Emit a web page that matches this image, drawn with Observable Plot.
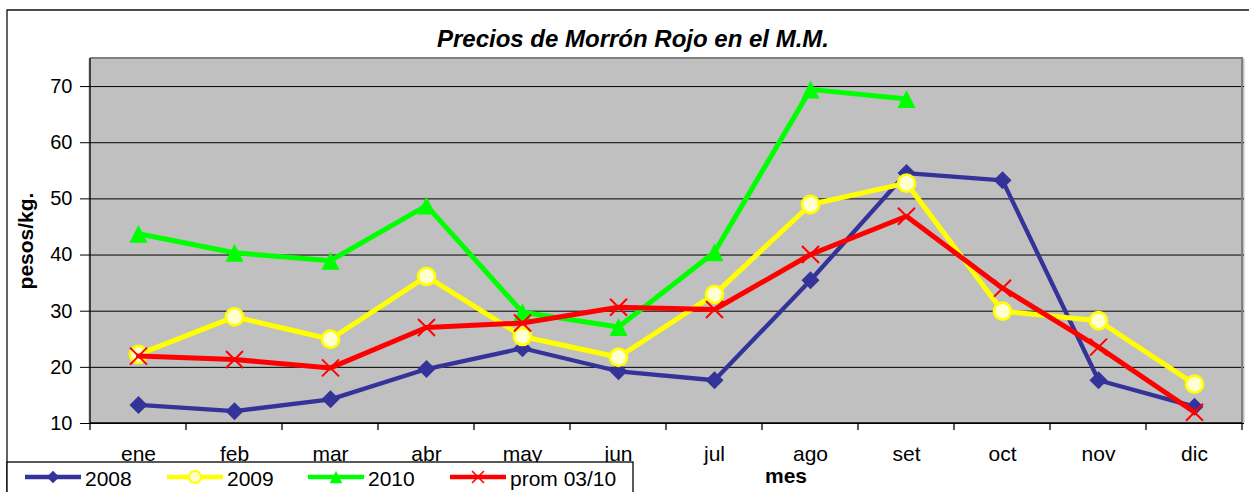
<!DOCTYPE html>
<html><head><meta charset="utf-8">
<script src="https://cdn.jsdelivr.net/npm/d3@7"></script>
<script src="https://cdn.jsdelivr.net/npm/@observablehq/plot@0.6"></script>
<style>html,body{margin:0;padding:0;background:#fff} svg{display:block}</style>
</head><body><div id="chart"></div>
<script>
const months = ["ene","feb","mar","abr","may","jun","jul","ago","set","oct","nov","dic"];
const v2008 = [13.3, 12.2, 14.3, 19.7, 23.4, 19.3, 17.7, 35.5, 54.6, 53.3, 17.7, 13.0];
const v2009 = [22.3, 29.0, 25.0, 36.2, 25.5, 21.8, 33.0, 49.0, 52.8, 30.0, 28.3, 17.0];
const v2010 = [43.8, 40.4, 39.0, 48.8, 29.8, 27.2, 40.5, 69.5, 67.8];
const vProm = [22.0, 21.4, 19.9, 27.1, 27.9, 30.7, 30.3, 40.1, 46.9, 34.1, 23.6, 12.0];
const yTicks = [10, 20, 30, 40, 50, 60, 70];
const seriesNames = ["2008", "2009", "2010", "prom 03/10"];
const titleText = "Precios de Morrón Rojo en el M.M.";
const yLabel = "pesos/kg.";
const xLabel = "mes";

(function () {
const FONT = "'Liberation Sans', Arial, sans-serif";
const rows = (vals) => vals.map((v, i) => ({mes: months[i], v})).filter(d => d.v != null);

// Excel-like marker shapes (half-size = sqrt(size/π) = r)
const half = (size) => Math.sqrt(size / Math.PI);
const symDiamond = {draw(c, size) { const h = half(size); c.moveTo(0, -h); c.lineTo(h, 0); c.lineTo(0, h); c.lineTo(-h, 0); c.closePath(); }};
const symTriangle = {draw(c, size) { const h = half(size); c.moveTo(0, -h); c.lineTo(h, h); c.lineTo(-h, h); c.closePath(); }};
const symTimes = {draw(c, size) { const h = half(size); c.moveTo(-h, -h); c.lineTo(h, h); c.moveTo(h, -h); c.lineTo(-h, h); }};
const symCircle = {draw(c, size) { const h = half(size); c.moveTo(h, 0); c.arc(0, 0, h, 0, 2 * Math.PI); }};

const styles = [
  {line: "#333399", lw: 4.3, symbol: symDiamond, r: 9, fill: "#333399", stroke: "none", sw: 0},
  {line: "#FFFF00", lw: 5, symbol: symCircle, r: 8.6, fill: "#FFFFD0", stroke: "#FFFF00", sw: 2.6},
  {line: "#00FF00", lw: 5, symbol: symTriangle, r: 9, fill: "#00FF00", stroke: "none", sw: 0},
  {line: "#FF0000", lw: 5, symbol: symTimes, r: 8.5, fill: "none", stroke: "#FF0000", sw: 2}
];
const allVals = [v2008, v2009, v2010, vProm];

const seriesMarks = allVals.flatMap((vals, k) => {
  const s = styles[k];
  return [
    Plot.line(rows(vals), {x: "mes", y: "v", stroke: s.line, strokeWidth: s.lw, strokeLinejoin: "round"}),
    Plot.dot(rows(vals), {x: "mes", y: "v", symbol: s.symbol, r: s.r, fill: s.fill, stroke: s.stroke, strokeWidth: s.sw})
  ];
});

const plot = Plot.plot({
  width: 1249, height: 492,
  marginLeft: 88, marginRight: 5, marginTop: 58, marginBottom: 69,
  style: {fontFamily: FONT, background: "#fff", color: "#000", overflow: "visible"},
  x: {type: "point", domain: months, padding: 0.5, align: 0.5},
  y: {domain: [10, 75]},
  marks: [
    Plot.frame({fill: "#C0C0C0", stroke: null}),
    Plot.ruleY(yTicks, {stroke: "#000", strokeWidth: 1}),
    Plot.axisY({ticks: yTicks, tickSize: 8, tickPadding: 8, fontSize: 20, label: null, stroke: "#000", fill: "#000"}),
    Plot.axisX({tickSize: 0, tickPadding: 23, fontSize: 21, label: null, fill: "#000"}),
    ...seriesMarks
  ]
});

document.getElementById("chart").appendChild(plot);

const svg = d3.select(plot);
const xs = plot.scale("x"), ys = plot.scale("y");
const step = xs.apply(months[1]) - xs.apply(months[0]);
const pLeft = xs.apply(months[0]) - step / 2;
const pRight = xs.apply(months[months.length - 1]) + step / 2;
const pTop = ys.apply(75), pBottom = ys.apply(10);

const g = svg.append("g");
g.append("path").attr("d", `M7,492V10H1249`).attr("fill", "none").attr("stroke", "#111").attr("stroke-width", 1.3);
g.append("path").attr("d", `M${pLeft},${pTop}H${pRight}V${pBottom}`).attr("fill", "none").attr("stroke", "#808080").attr("stroke-width", 2);
g.append("path").attr("d", `M${pLeft},${pTop}V${pBottom}H${pRight}`).attr("fill", "none").attr("stroke", "#000").attr("stroke-width", 1.3);
d3.range(months.length + 1).forEach(i => {
  const x = pLeft + i * step;
  g.append("line").attr("x1", x).attr("x2", x).attr("y1", pBottom).attr("y2", pBottom + 7).attr("stroke", "#000").attr("stroke-width", 1.3);
});
g.append("text").attr("x", 633).attr("y", 47).attr("text-anchor", "middle")
  .attr("font-family", FONT).attr("font-size", 24).attr("font-weight", "bold").attr("font-style", "italic")
  .text(titleText);
g.append("text").attr("transform", "translate(33,241) rotate(-90)").attr("text-anchor", "middle")
  .attr("font-family", FONT).attr("font-size", 21).attr("font-weight", "bold").text(yLabel);
g.append("text").attr("x", 786).attr("y", 483).attr("text-anchor", "middle")
  .attr("font-family", FONT).attr("font-size", 21).attr("font-weight", "bold").text(xLabel);

const lg = svg.append("g");
lg.append("rect").attr("x", 7).attr("y", 462).attr("width", 626).attr("height", 40)
  .attr("fill", "#fff").attr("stroke", "#000").attr("stroke-width", 1.3);
const lx = [25, 167, 308, 450];
seriesNames.forEach((name, k) => {
  const s = styles[k];
  const x0 = lx[k], ly = 477;
  lg.append("line").attr("x1", x0).attr("x2", x0 + 56).attr("y1", ly).attr("y2", ly)
    .attr("stroke", s.line).attr("stroke-width", 4.5);
  const rr = s.r * 0.7;
  lg.append("path").attr("transform", `translate(${x0 + 28},${ly})`)
    .attr("d", d3.symbol(s.symbol, Math.PI * rr * rr)())
    .attr("fill", s.fill).attr("stroke", s.stroke).attr("stroke-width", s.sw * 0.8);
  lg.append("text").attr("x", x0 + 60).attr("y", 486).attr("text-anchor", "start")
    .attr("font-family", FONT).attr("font-size", 21).attr("fill", "#000").text(name);
});
})();
</script>
</body></html>
